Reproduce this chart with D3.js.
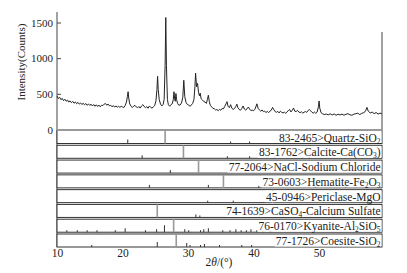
<!DOCTYPE html>
<html><head><meta charset="utf-8">
<script src="https://cdn.jsdelivr.net/npm/d3@7"></script>
<style>body{margin:0;background:#fff}svg{display:block}</style>
</head><body><svg id="c" width="407" height="273" font-family="'Liberation Serif','Times New Roman',serif"></svg>
<script>
// XRD pattern
const angles = [10.0,10.2,10.4,10.6,10.8,11.0,11.2,11.4,11.6,11.8,12.0,12.2,12.4,12.6,12.8,13.0,13.2,13.4,13.6,13.8,14.0,14.2,14.4,14.6,14.8,15.0,15.2,15.4,15.6,15.8,16.0,16.2,16.4,16.6,16.8,17.0,17.2,17.4,17.6,17.8,18.0,18.2,18.4,18.6,18.8,19.0,19.2,19.4,19.6,19.8,20.0,20.2,20.4,20.6,20.75,20.85,20.95,21.1,21.3,21.5,21.7,21.9,22.1,22.3,22.5,22.7,22.9,23.1,23.3,23.5,23.7,23.9,24.1,24.3,24.5,24.7,24.9,25.1,25.25,25.35,25.45,25.6,25.8,26.0,26.2,26.35,26.5,26.6,26.7,26.85,27.0,27.2,27.4,27.6,27.75,27.85,27.95,28.05,28.15,28.25,28.4,28.6,28.8,29.0,29.2,29.35,29.5,29.7,29.9,30.1,30.3,30.5,30.7,30.9,31.05,31.15,31.3,31.45,31.6,31.75,31.85,32.0,32.2,32.4,32.6,32.8,32.95,33.1,33.25,33.4,33.6,33.8,34.0,34.2,34.4,34.6,34.8,35.0,35.2,35.4,35.6,35.8,35.95,36.1,36.3,36.5,36.7,36.9,37.1,37.3,37.45,37.6,37.8,38.0,38.2,38.4,38.6,38.8,39.0,39.2,39.4,39.6,39.8,40.0,40.2,40.4,40.5,40.7,40.9,41.1,41.3,41.5,41.7,41.9,42.1,42.3,42.5,42.7,42.9,43.1,43.3,43.5,43.7,43.9,44.1,44.3,44.5,44.7,44.9,45.1,45.3,45.5,45.7,45.9,46.1,46.3,46.5,46.7,46.9,47.1,47.3,47.5,47.7,47.9,48.1,48.3,48.5,48.7,48.9,49.1,49.3,49.5,49.7,49.9,50.0,50.1,50.3,50.5,50.8,51.1,51.4,51.7,52.0,52.3,52.6,52.9,53.2,53.5,53.8,54.1,54.4,54.7,55.0,55.3,55.6,55.9,56.2,56.5,56.8,57.0,57.15,57.3,57.5,57.8,58.1,58.4,58.7,59.0,59.3,59.6];
const counts = [470,432,452,418,436,404,424,396,412,384,402,376,394,368,386,362,380,356,372,350,368,346,364,340,358,338,354,330,350,326,346,322,342,318,340,336,356,364,340,356,332,340,318,336,314,330,312,326,310,326,316,308,336,385,465,530,440,360,326,308,328,338,316,304,322,300,330,348,322,306,320,298,330,310,300,316,334,400,560,745,560,420,356,330,352,420,900,1570,900,420,346,326,350,362,420,530,430,396,505,420,366,340,344,372,450,690,460,376,350,344,324,344,364,420,600,790,600,645,520,470,510,430,414,392,384,366,420,480,390,340,318,296,292,274,280,264,282,270,294,290,324,360,390,326,306,348,296,282,294,324,355,306,282,270,294,330,286,272,290,315,286,264,272,262,284,330,360,296,274,256,274,250,256,238,254,236,258,270,310,276,250,242,254,232,258,240,232,244,226,248,262,282,246,268,300,256,252,268,246,236,248,230,242,252,240,262,282,262,242,230,244,226,244,320,400,300,236,222,210,216,206,220,204,218,200,214,204,216,200,214,222,206,200,214,222,228,210,226,236,248,272,310,258,232,244,222,238,216,230,218,236];

const yTicks = [0,500,1000,1500];
const xTicks = [10,20,30,40,50];

// Reference phases
const phaseNames = ["83-2465>Quartz-SiO_2","83-1762>Calcite-Ca(CO_3)","77-2064>NaCl-Sodium Chloride","73-0603>Hematite-Fe_2O_3","45-0946>Periclase-MgO","74-1639>CaSO_4-Calcium Sulfate","76-0170>Kyanite-Al_2SiO_5","77-1726>Coesite-SiO_2"];
const mainPeaks = [26.5,29.3,31.6,35.4,42.9,25.3,27.8,28.2];
const minorPeaks = [
  [[20.8,4],[36.5,2],[39.4,2],[50.1,3]],
  [[23.0,3],[36.0,2],[39.4,2],[43.1,2],[47.5,2],[48.5,2]],
  [[27.3,3],[45.4,2],[56.4,2]],
  [[24.1,3],[33.1,3],[40.8,2],[49.4,2],[54.0,2]],
  [[33.0,2],[36.9,2]],
  [[31.2,3],[31.8,2],[38.6,2],[40.8,2],[48.6,2],[52.2,2]],
  [[11.5,2],[13.1,2],[14.6,2],[16.1,2],[18.9,2],[20.4,4],[23.5,2],[25.2,3],[26.4,7],[29.5,3],[30.1,2],[31.9,2],[32.4,3],[33.1,4],[35.3,2],[36.4,2],[37.3,3],[38.1,2],[38.9,2],[39.6,3],[40.5,2],[41.4,2],[42.6,2]],
  [[15.3,2],[25.3,5],[29.8,4],[30.3,2],[31.9,2],[32.5,3],[34.8,2],[38.2,2],[39.7,2]]
];

const FONT = "'Liberation Serif','Times New Roman',serif";
const svg = d3.select("#c");
const X0 = 57, X1 = 382;
const x = d3.scaleLinear().domain([10, 59.6]).range([X0, X1]);
const y = d3.scaleLinear().domain([0, 1500]).range([129.5, 22.5]);
const band = d3.scaleBand().domain(phaseNames).range([130.5, 247]).paddingInner(0.12).paddingOuter(0);

// main pattern
const line = d3.line().x((d,i)=>x(angles[i])).y(d=>y(d));
svg.append("path").datum(counts).attr("d", line).attr("fill","none").attr("stroke","#222").attr("stroke-width",1);

// frame of main plot
svg.append("line").attr("x1",X0).attr("x2",X0).attr("y1",y(1646)).attr("y2",247).attr("stroke","#444").attr("stroke-width",1);
svg.append("line").attr("x1",X1).attr("x2",X1).attr("y1",32).attr("y2",130).attr("stroke","#444").attr("stroke-width",1);

// y axis
const ya = svg.append("g").attr("transform",`translate(${X0},0)`)
  .call(d3.axisLeft(y).tickValues(yTicks).tickFormat(d3.format("d")).tickSizeInner(-4).tickSizeOuter(0).tickPadding(4));
ya.attr("font-family",FONT);
ya.select(".domain").remove();
ya.selectAll("line").attr("stroke","#444");
ya.selectAll("text").attr("font-size",11).attr("fill","#222").attr("font-family",FONT);

svg.append("text").attr("transform","translate(25,62) rotate(-90)").attr("text-anchor","middle")
  .attr("font-family",FONT).attr("fill","#222").attr("font-size",11).text("Intensity(Counts)");

// phase bands
phaseNames.forEach((name,i)=>{
  const top = band(name), h = band.bandwidth();
  const g = svg.append("g");
  g.append("rect").attr("x",X0).attr("y",top).attr("width",X1-X0).attr("height",h)
    .attr("fill","#fff").attr("stroke","#333").attr("stroke-width",1);
  g.selectAll(".mn").data(minorPeaks[i]).join("line")
    .attr("x1",d=>x(d[0])).attr("x2",d=>x(d[0]))
    .attr("y1",top+h).attr("y2",d=>top+h-d[1]).attr("stroke","#333").attr("stroke-width",1);
  g.append("line").attr("x1",x(mainPeaks[i])).attr("x2",x(mainPeaks[i]))
    .attr("y1",top).attr("y2",top+h).attr("stroke","#999").attr("stroke-width",1.6);
  const t = g.append("text").attr("x",X1-1.5).attr("y",top+h-2).attr("text-anchor","end")
    .attr("font-family",FONT).attr("fill","#222").attr("font-size",11.5);
  let shifted = false;
  name.split(/_(\d)/).forEach((seg,k)=>{
    if(!seg) return;
    const ts = t.append("tspan").text(seg);
    if(k%2===1){ ts.attr("font-size",7.5).attr("dy",2); shifted = true; }
    else if(shifted){ ts.attr("dy",-2); shifted = false; }
  });
  const bb = t.node().getBBox();
  g.insert("rect","text").attr("x",bb.x-1).attr("y",top+1).attr("width",X1-bb.x+0.5).attr("height",h-1.5).attr("fill","#fff");
});
svg.append("line").attr("x1",X0).attr("x2",X1).attr("y1",130).attr("y2",130).attr("stroke","#999").attr("stroke-width",2);

// x axis
const xa = svg.append("g").attr("transform","translate(0,247)")
  .call(d3.axisBottom(x).tickValues(xTicks).tickSizeInner(0).tickSizeOuter(0).tickPadding(2));
xa.select(".domain").remove();
xa.selectAll("text").attr("font-size",11.5).attr("fill","#222").attr("font-family",FONT);

const xl = svg.append("text").attr("x",219).attr("y",266).attr("text-anchor","middle")
  .attr("font-family",FONT).attr("fill","#222").attr("font-size",11.5);
xl.append("tspan").text("2");
xl.append("tspan").attr("font-style","italic").text("θ");
xl.append("tspan").text("/(°)");
</script></body></html>
